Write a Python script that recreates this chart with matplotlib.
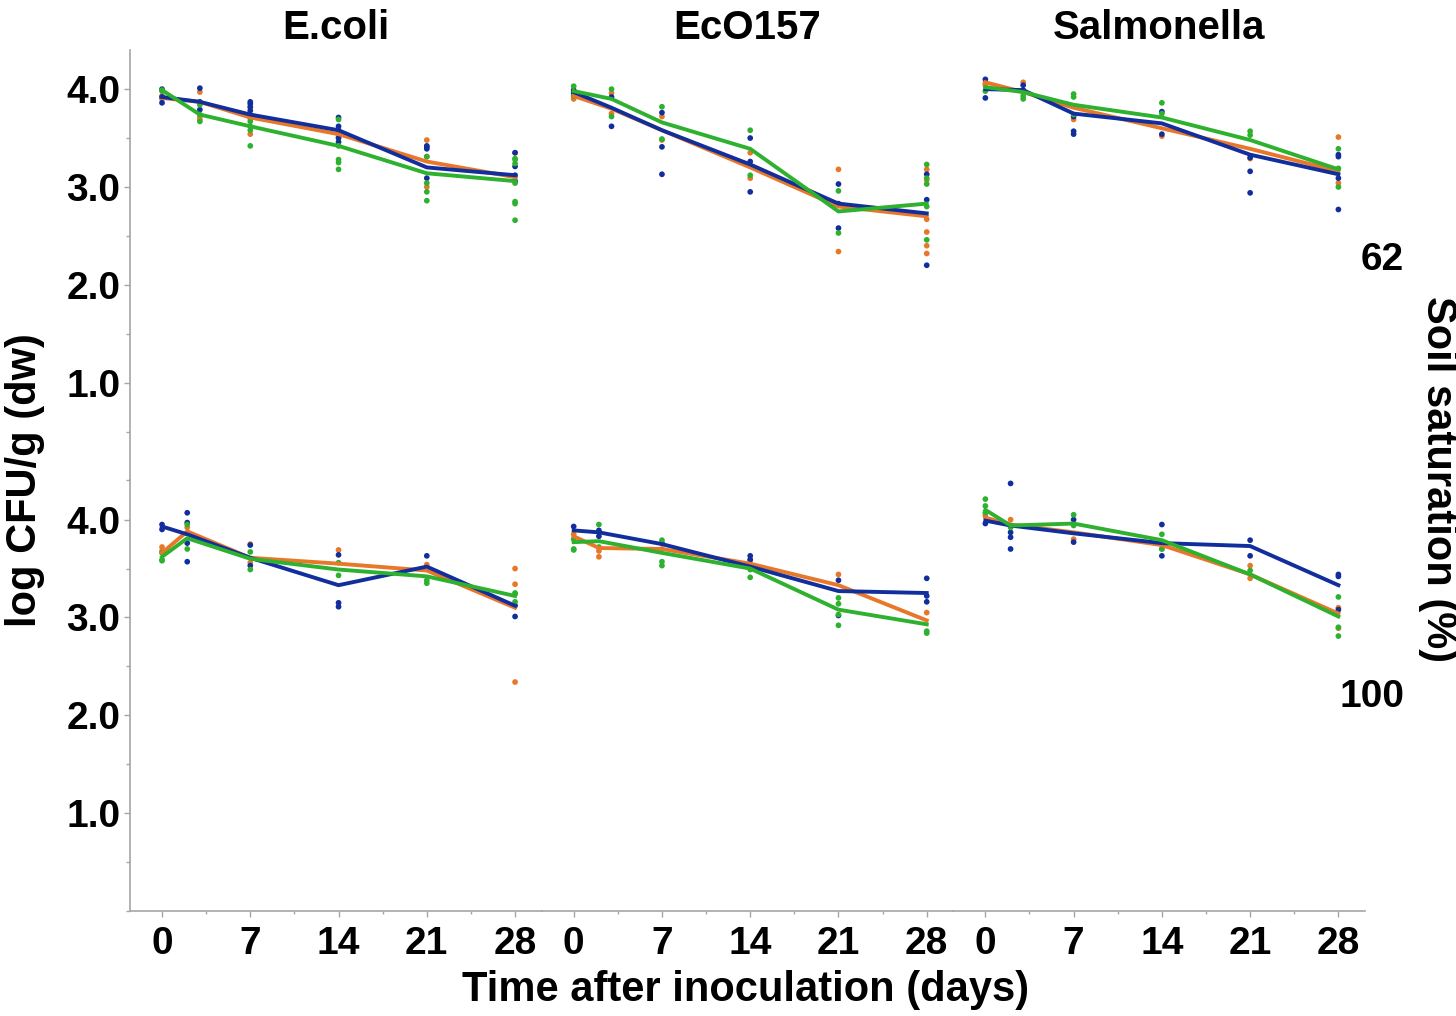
import matplotlib
matplotlib.use("Agg")
import matplotlib.pyplot as plt
from matplotlib.ticker import MultipleLocator, FixedLocator

plt.rcParams['font.family'] = ['Liberation Sans', 'DejaVu Sans']
plt.rcParams['font.weight'] = 'bold'

# ---------------- data ----------------
organisms = ["E.coli", "EcO157", "Salmonella"]
saturations = ["62", "100"]
days_62 = [0, 3, 7, 14, 21, 28]
days_100 = [0, 2, 7, 14, 21, 28]
x_ticks = [0, 7, 14, 21, 28]
y_ticks = [1.0, 2.0, 3.0, 4.0]
y_tick_labels = ["1.0", "2.0", "3.0", "4.0"]

# mean lines (orange, blue, green)
ecoli_62_orange = [3.91, 3.87, 3.71, 3.54, 3.26, 3.10]
ecoli_62_blue = [3.92, 3.87, 3.74, 3.58, 3.20, 3.12]
ecoli_62_green = [3.99, 3.74, 3.62, 3.42, 3.14, 3.06]
eco157_62_orange = [3.93, 3.80, 3.58, 3.20, 2.80, 2.70]
eco157_62_blue = [3.97, 3.81, 3.58, 3.23, 2.83, 2.73]
eco157_62_green = [3.98, 3.90, 3.66, 3.39, 2.75, 2.83]
salm_62_orange = [4.07, 3.97, 3.81, 3.60, 3.39, 3.16]
salm_62_blue = [4.00, 3.99, 3.75, 3.65, 3.33, 3.13]
salm_62_green = [4.02, 3.97, 3.84, 3.71, 3.48, 3.18]

ecoli_100_orange = [3.66, 3.88, 3.61, 3.55, 3.48, 3.10]
ecoli_100_blue = [3.93, 3.85, 3.61, 3.33, 3.52, 3.12]
ecoli_100_green = [3.62, 3.81, 3.60, 3.49, 3.42, 3.22]
eco157_100_orange = [3.83, 3.71, 3.70, 3.55, 3.33, 2.97]
eco157_100_blue = [3.89, 3.87, 3.75, 3.52, 3.27, 3.25]
eco157_100_green = [3.77, 3.78, 3.66, 3.50, 3.08, 2.93]
salm_100_orange = [4.02, 3.95, 3.87, 3.74, 3.44, 3.04]
salm_100_blue = [3.99, 3.94, 3.86, 3.76, 3.73, 3.33]
salm_100_green = [4.10, 3.94, 3.96, 3.79, 3.44, 3.01]

# replicate points (one list per time point)
rep_ecoli_62_orange = [[3.93, 3.90], [3.97, 3.72, 3.69], [3.81, 3.70, 3.54], [3.53, 3.51], [3.48, 3.31, 3.00], [3.35, 3.10]]
rep_ecoli_62_blue = [[4.00, 3.86, 3.92], [4.01, 3.87, 3.79], [3.87, 3.85, 3.82, 3.78], [3.71, 3.62, 3.58, 3.50, 3.46], [3.42, 3.41, 3.39, 3.09], [3.35, 3.21, 3.12, 3.06]]
rep_ecoli_62_green = [[3.99, 3.98], [3.84, 3.74, 3.67], [3.67, 3.62, 3.58, 3.42], [3.69, 3.42, 3.28, 3.25, 3.18], [3.31, 3.04, 2.95, 2.86], [3.29, 3.28, 3.24, 3.04, 2.85, 2.83, 2.66]]
rep_eco157_62_orange = [[3.93, 3.90], [3.96, 3.75], [3.72, 3.48], [3.35, 3.09], [3.18, 2.34], [3.18, 3.07, 2.67, 2.54, 2.40, 2.32]]
rep_eco157_62_blue = [[3.99, 3.96], [3.92, 3.62], [3.76, 3.41, 3.13], [3.50, 3.26, 2.95], [3.03, 2.83, 2.58], [3.13, 2.87, 2.20]]
rep_eco157_62_green = [[4.03, 3.93], [4.00, 3.72], [3.82, 3.49], [3.58, 3.12], [2.96, 2.53], [3.23, 3.09, 3.03, 2.80, 2.46]]
rep_salm_62_orange = [[4.06, 4.04], [4.07], [3.69], [3.52], [3.29], [3.51, 3.04]]
rep_salm_62_blue = [[4.10, 3.91], [4.04, 3.99], [3.72, 3.57, 3.54], [3.77, 3.54], [3.30, 3.16, 2.94], [3.33, 3.31, 3.09, 2.77]]
rep_salm_62_green = [[3.98], [3.93, 3.90], [3.95, 3.92, 3.74], [3.86, 3.75], [3.57, 3.53], [3.39, 3.19, 3.00]]

rep_ecoli_100_orange = [[3.72, 3.68], [3.92], [3.75, 3.56], [3.69], [3.54], [3.50, 3.34, 2.34]]
rep_ecoli_100_blue = [[3.95, 3.90], [4.07, 3.97, 3.76, 3.57], [3.74, 3.53], [3.64, 3.15, 3.11], [3.63], [3.12, 3.01]]
rep_ecoli_100_green = [[3.66, 3.59, 3.58], [3.95, 3.70], [3.67, 3.49], [3.56, 3.43], [3.38, 3.35], [3.25, 3.24, 3.16]]
rep_eco157_100_orange = [[3.85], [3.68, 3.62], [3.70], [3.59], [3.44], [3.05]]
rep_eco157_100_blue = [[3.93], [3.89, 3.83], [3.76], [3.63, 3.59], [3.38, 3.02], [3.40, 3.22, 3.16]]
rep_eco157_100_green = [[3.80, 3.70, 3.69], [3.95, 3.72], [3.79, 3.57, 3.53], [3.49, 3.41], [3.20, 3.14, 3.03, 2.92], [2.86, 2.84]]
rep_salm_100_orange = [[4.04], [4.00], [3.80], [3.70], [3.53, 3.40], [3.10, 2.89]]
rep_salm_100_blue = [[3.96], [4.37, 3.87, 3.82, 3.70], [4.00, 3.77], [3.95, 3.63], [3.79, 3.63], [3.44, 3.42, 3.08]]
rep_salm_100_green = [[4.21, 4.14, 4.07], [3.92], [4.05, 3.94], [3.85, 3.70], [3.48], [3.21, 2.90, 2.81]]

# ---------------- styling ----------------
C_ORANGE = "#E8772A"
C_BLUE = "#112E9C"
C_GREEN = "#2EB12E"
AX_GRAY = "#A6A6A6"

W, H = 1456, 1016
fig = plt.figure(figsize=(W / 100, H / 100), dpi=100)
gs = fig.add_gridspec(2, 3, left=130 / W, right=1365 / W, top=1 - 50 / H, bottom=1 - 911 / H,
                      wspace=0, hspace=0)

panels = [
    [(ecoli_62_orange, ecoli_62_blue, ecoli_62_green, rep_ecoli_62_orange, rep_ecoli_62_blue, rep_ecoli_62_green),
     (eco157_62_orange, eco157_62_blue, eco157_62_green, rep_eco157_62_orange, rep_eco157_62_blue, rep_eco157_62_green),
     (salm_62_orange, salm_62_blue, salm_62_green, rep_salm_62_orange, rep_salm_62_blue, rep_salm_62_green)],
    [(ecoli_100_orange, ecoli_100_blue, ecoli_100_green, rep_ecoli_100_orange, rep_ecoli_100_blue, rep_ecoli_100_green),
     (eco157_100_orange, eco157_100_blue, eco157_100_green, rep_eco157_100_orange, rep_eco157_100_blue, rep_eco157_100_green),
     (salm_100_orange, salm_100_blue, salm_100_green, rep_salm_100_orange, rep_salm_100_blue, rep_salm_100_green)],
]
row_days = [days_62, days_100]
colors = [C_ORANGE, C_BLUE, C_GREEN]

for r in range(2):
    for c in range(3):
        ax = fig.add_subplot(gs[r, c])
        data = panels[r][c]
        days = row_days[r]
        means = data[:3]
        reps = data[3:]
        for col, rep in zip(colors, reps):
            xs, ys = [], []
            for d, vals in zip(days, rep):
                xs += [d] * len(vals)
                ys += vals
            ax.scatter(xs, ys, s=17, color=col, edgecolors='none', zorder=2)
        for col, m in zip(colors, means):
            ax.plot(days, m, color=col, lw=2.8, zorder=3, solid_joinstyle='round')
        ax.set_xlim(-2.54, 30.11)
        ax.set_ylim(0, 4.4)
        for s in ["top", "right"]:
            ax.spines[s].set_visible(False)
        ax.spines["left"].set_color(AX_GRAY)
        ax.spines["bottom"].set_color(AX_GRAY)
        ax.spines["left"].set_linewidth(1.2)
        ax.spines["bottom"].set_linewidth(1.2)
        ax.spines["left"].set_visible(c == 0)
        ax.spines["bottom"].set_visible(r == 1)

        ax.xaxis.set_major_locator(FixedLocator(x_ticks))
        ax.xaxis.set_minor_locator(MultipleLocator(3.5))
        ax.yaxis.set_major_locator(FixedLocator(y_ticks))
        ax.yaxis.set_minor_locator(MultipleLocator(0.5))
        ax.tick_params(axis='both', which='both', direction='out', color=AX_GRAY, width=1.0)
        ax.tick_params(axis='x', which='major', length=4, pad=7, labelsize=28)
        ax.tick_params(axis='x', which='minor', length=2.5)
        ax.tick_params(axis='y', which='major', length=4, pad=3, labelsize=28)
        ax.tick_params(axis='y', which='minor', length=3)
        if c == 0:
            ax.set_yticklabels(y_tick_labels, fontweight='bold')
        else:
            ax.tick_params(axis='y', which='both', left=False, labelleft=False)
        if r == 1:
            ax.set_xticklabels([str(t) for t in x_ticks], fontweight='bold')
        else:
            ax.tick_params(axis='x', which='both', bottom=False, labelbottom=False)
        if r == 0:
            ax.set_title(organisms[c], fontsize=29, fontweight='bold', pad=8)
        ax.patch.set_visible(False)

fig.text(746 / W, 1 - 990 / H, "Time after inoculation (days)", ha='center', va='center',
         fontsize=30, fontweight='bold')
fig.text(25 / W, 1 - 480 / H, "log CFU/g (dw)", ha='center', va='center', rotation=90,
         fontsize=30, fontweight='bold')
fig.text(1438 / W, 1 - 479 / H, "Soil saturation (%)", ha='center', va='center', rotation=270,
         fontsize=30, fontweight='bold')
fig.text(1404 / W, 1 - 260 / H, saturations[0], ha='right', va='center', fontsize=28, fontweight='bold')
fig.text(1404 / W, 1 - 697 / H, saturations[1], ha='right', va='center', fontsize=28, fontweight='bold')

fig.savefig("out.png", dpi=100, facecolor='white')
